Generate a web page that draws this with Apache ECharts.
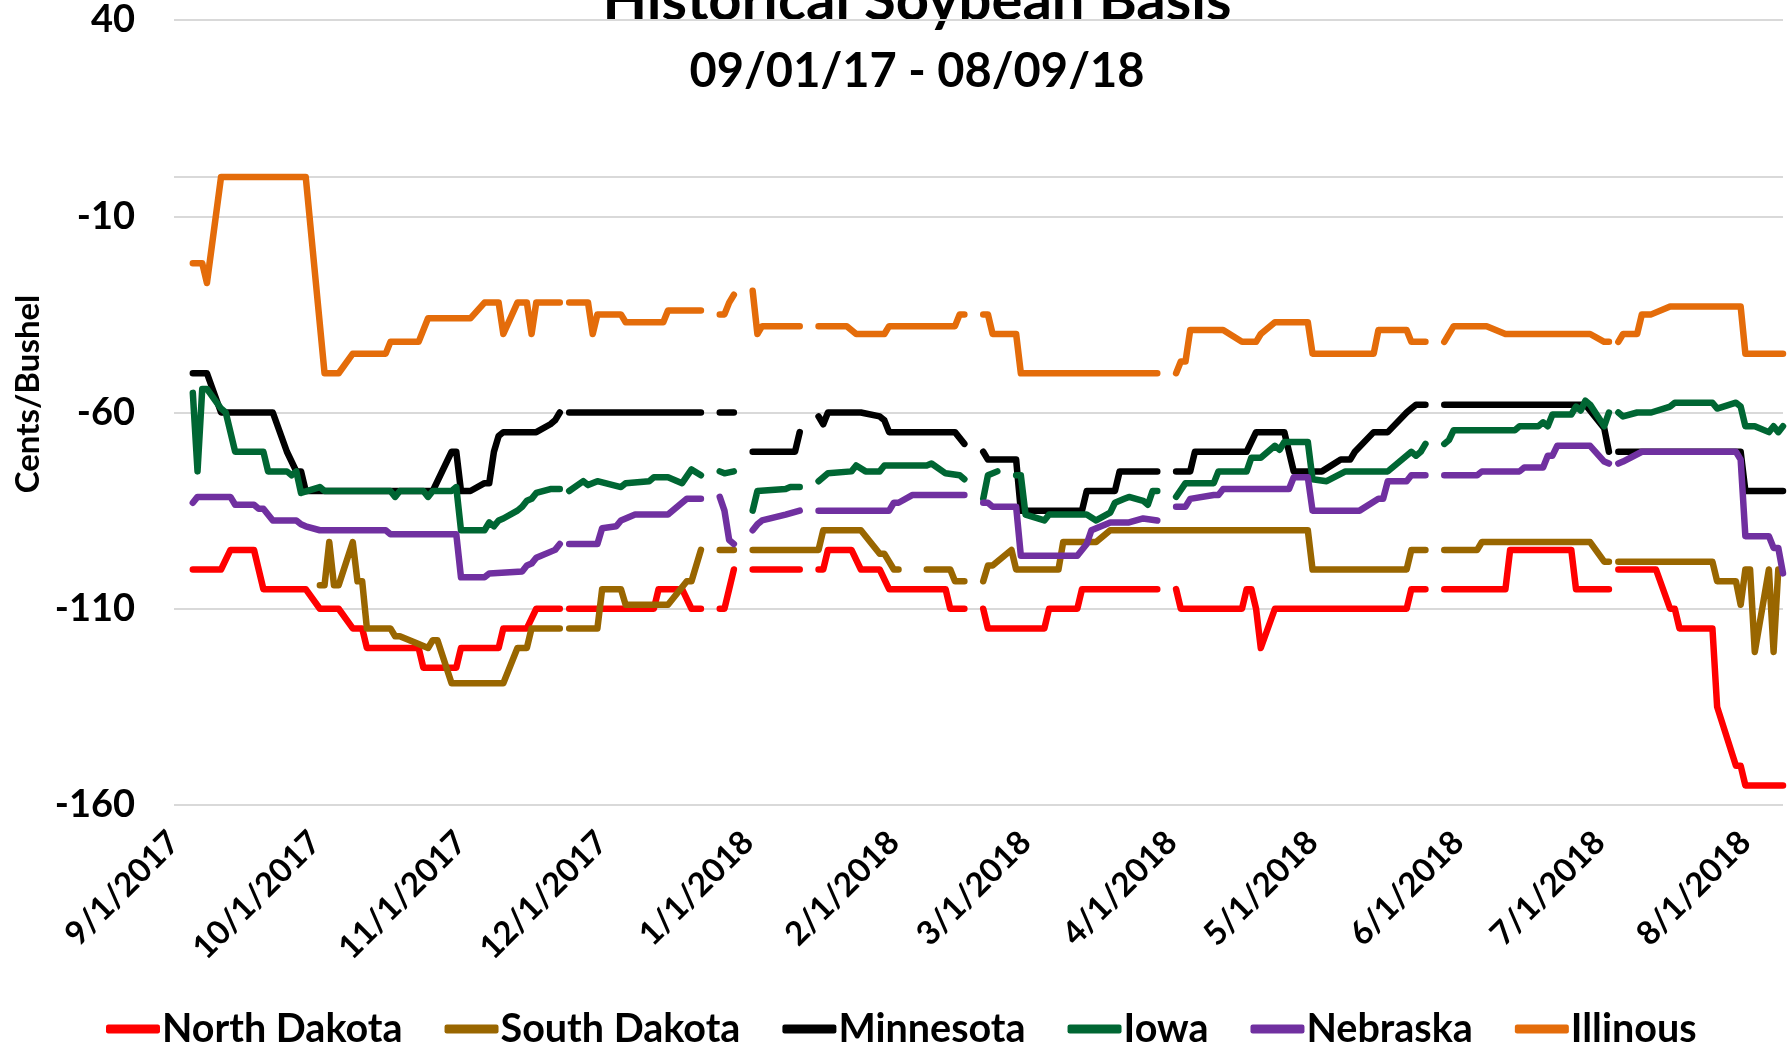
<!DOCTYPE html>
<html lang="en">
<head>
<meta charset="UTF-8">
<title>Historical Soybean Basis</title>
<style>
  html, body { margin: 0; padding: 0; background: #fff; }
  #main { width: 1790px; height: 1047px; }
</style>
</head>
<body>
<div id="main"></div>
<script src="https://cdn.jsdelivr.net/npm/echarts@6/dist/echarts.min.js"></script>
<script>
var seriesNames = ['North Dakota', 'South Dakota', 'Minnesota', 'Iowa', 'Nebraska', 'Illinous'];
var seriesColors = ['#FF0000', '#996600', '#000000', '#006633', '#7030A0', '#E46C0A'];

var yTicks = [-160, -110, -60, -10, 40];
var monthTicks = ['2017-09-01', '2017-10-01', '2017-11-01', '2017-12-01', '2018-01-01', '2018-02-01',
  '2018-03-01', '2018-04-01', '2018-05-01', '2018-06-01', '2018-07-01', '2018-08-01'];

// market holidays -> blank cells -> gaps in the lines
var holidays = ['2017-11-23', '2017-12-25', '2018-01-01', '2018-01-15', '2018-02-19',
  '2018-03-30', '2018-05-28', '2018-07-04'];
var sdGaps = ['2017-11-23', '2017-12-25', '2018-01-01', '2018-02-05', '2018-02-19', '2018-05-28', '2018-07-04'];

var northDakota = [
  ['2017-09-05', -100], ['2017-09-11', -100], ['2017-09-13', -95], ['2017-09-18', -95],
  ['2017-09-20', -105], ['2017-09-29', -105], ['2017-10-02', -110], ['2017-10-06', -110],
  ['2017-10-09', -115], ['2017-10-11', -115], ['2017-10-12', -120], ['2017-10-23', -120],
  ['2017-10-24', -125], ['2017-10-31', -125], ['2017-11-01', -120], ['2017-11-09', -120],
  ['2017-11-10', -115], ['2017-11-15', -115], ['2017-11-17', -110], ['2017-11-22', -110],
  ['2017-11-24', -110], ['2017-12-12', -110], ['2017-12-13', -105], ['2017-12-18', -105],
  ['2017-12-20', -110], ['2017-12-22', -110], ['2017-12-26', -110], ['2017-12-27', -110],
  ['2017-12-28', -105], ['2017-12-29', -100], ['2018-01-02', -100], ['2018-01-12', -100],
  ['2018-01-16', -100], ['2018-01-17', -100], ['2018-01-18', -95], ['2018-01-23', -95],
  ['2018-01-25', -100], ['2018-01-29', -100], ['2018-01-31', -105], ['2018-02-12', -105],
  ['2018-02-13', -110], ['2018-02-16', -110], ['2018-02-20', -110], ['2018-02-21', -115],
  ['2018-03-05', -115], ['2018-03-06', -110], ['2018-03-12', -110], ['2018-03-13', -105],
  ['2018-03-29', -105], ['2018-04-02', -105], ['2018-04-03', -110], ['2018-04-16', -110],
  ['2018-04-17', -105], ['2018-04-18', -105], ['2018-04-19', -110], ['2018-04-20', -120],
  ['2018-04-23', -110], ['2018-05-21', -110], ['2018-05-22', -105], ['2018-05-25', -105],
  ['2018-05-29', -105], ['2018-06-11', -105], ['2018-06-12', -95], ['2018-06-25', -95],
  ['2018-06-26', -105], ['2018-07-03', -105], ['2018-07-05', -100], ['2018-07-13', -100],
  ['2018-07-16', -110], ['2018-07-17', -110], ['2018-07-18', -115], ['2018-07-25', -115],
  ['2018-07-26', -135], ['2018-07-30', -150], ['2018-07-31', -150], ['2018-08-01', -155],
  ['2018-08-09', -155]
];

var southDakota = [
  ['2017-10-02', -104], ['2017-10-03', -104], ['2017-10-04', -93], ['2017-10-05', -104],
  ['2017-10-06', -104], ['2017-10-09', -93], ['2017-10-10', -103], ['2017-10-11', -103],
  ['2017-10-12', -115], ['2017-10-17', -115], ['2017-10-18', -117], ['2017-10-19', -117],
  ['2017-10-23', -119], ['2017-10-25', -120], ['2017-10-26', -118], ['2017-10-27', -118],
  ['2017-10-30', -129], ['2017-11-10', -129], ['2017-11-13', -120], ['2017-11-15', -120],
  ['2017-11-16', -115], ['2017-11-22', -115], ['2017-11-24', -115], ['2017-11-30', -115],
  ['2017-12-01', -105], ['2017-12-05', -105], ['2017-12-06', -109], ['2017-12-15', -109],
  ['2017-12-19', -103], ['2017-12-20', -103], ['2017-12-22', -95], ['2017-12-26', -95],
  ['2017-12-29', -95], ['2018-01-02', -95], ['2018-01-16', -95], ['2018-01-17', -90],
  ['2018-01-25', -90], ['2018-01-29', -96], ['2018-01-30', -96], ['2018-01-31', -98],
  ['2018-02-01', -100], ['2018-02-02', -100], ['2018-02-08', -100], ['2018-02-13', -100],
  ['2018-02-14', -103], ['2018-02-16', -103], ['2018-02-20', -103], ['2018-02-21', -99],
  ['2018-02-22', -99], ['2018-02-26', -95], ['2018-02-27', -100], ['2018-03-08', -100],
  ['2018-03-09', -93], ['2018-03-16', -93], ['2018-03-19', -90], ['2018-04-30', -90],
  ['2018-05-01', -100], ['2018-05-21', -100], ['2018-05-22', -95], ['2018-05-25', -95],
  ['2018-05-29', -95], ['2018-06-05', -95], ['2018-06-06', -93], ['2018-06-29', -93],
  ['2018-07-02', -98], ['2018-07-03', -98], ['2018-07-05', -98], ['2018-07-25', -98],
  ['2018-07-26', -103], ['2018-07-30', -103], ['2018-07-31', -109], ['2018-08-01', -100],
  ['2018-08-02', -100], ['2018-08-03', -121], ['2018-08-06', -100], ['2018-08-07', -121],
  ['2018-08-08', -100]
];

var minnesota = [
  ['2017-09-05', -50], ['2017-09-08', -50], ['2017-09-11', -60], ['2017-09-22', -60],
  ['2017-09-25', -70], ['2017-09-27', -75], ['2017-09-28', -75], ['2017-09-29', -80],
  ['2017-10-26', -80], ['2017-10-30', -70], ['2017-10-31', -70], ['2017-11-01', -80],
  ['2017-11-03', -80], ['2017-11-06', -78], ['2017-11-07', -78], ['2017-11-08', -70],
  ['2017-11-09', -66], ['2017-11-10', -65], ['2017-11-17', -65], ['2017-11-20', -63],
  ['2017-11-21', -62], ['2017-11-22', -60], ['2017-11-24', -60], ['2017-12-22', -60],
  ['2017-12-26', -60], ['2017-12-29', -60], ['2018-01-02', -70], ['2018-01-11', -70],
  ['2018-01-12', -65], ['2018-01-16', -61], ['2018-01-17', -63], ['2018-01-18', -60],
  ['2018-01-25', -60], ['2018-01-29', -61], ['2018-01-30', -62], ['2018-01-31', -65],
  ['2018-02-14', -65], ['2018-02-16', -68], ['2018-02-20', -70], ['2018-02-21', -72],
  ['2018-02-27', -72], ['2018-02-28', -85], ['2018-03-13', -85], ['2018-03-14', -80],
  ['2018-03-20', -80], ['2018-03-21', -75], ['2018-03-29', -75], ['2018-04-02', -75],
  ['2018-04-05', -75], ['2018-04-06', -70], ['2018-04-17', -70], ['2018-04-19', -65],
  ['2018-04-25', -65], ['2018-04-27', -75], ['2018-05-03', -75], ['2018-05-07', -72],
  ['2018-05-09', -72], ['2018-05-10', -70], ['2018-05-14', -65], ['2018-05-17', -65],
  ['2018-05-21', -60], ['2018-05-22', -59], ['2018-05-23', -58], ['2018-05-25', -58],
  ['2018-05-29', -58], ['2018-06-28', -58], ['2018-07-02', -64], ['2018-07-03', -70],
  ['2018-07-05', -70], ['2018-07-31', -70], ['2018-08-01', -80], ['2018-08-09', -80]
];

var iowa = [
  ['2017-09-05', -55], ['2017-09-06', -75], ['2017-09-07', -54], ['2017-09-08', -54],
  ['2017-09-11', -59], ['2017-09-12', -60], ['2017-09-14', -70], ['2017-09-20', -70],
  ['2017-09-21', -75], ['2017-09-25', -75], ['2017-09-26', -76], ['2017-09-27', -75],
  ['2017-09-28', -80.5], ['2017-10-02', -79], ['2017-10-03', -80], ['2017-10-17', -80],
  ['2017-10-18', -81.5], ['2017-10-19', -80], ['2017-10-24', -80], ['2017-10-25', -81.5],
  ['2017-10-26', -80], ['2017-10-30', -80], ['2017-10-31', -79], ['2017-11-01', -90],
  ['2017-11-06', -90], ['2017-11-07', -88], ['2017-11-08', -89], ['2017-11-09', -87.5],
  ['2017-11-10', -87], ['2017-11-13', -85], ['2017-11-14', -84], ['2017-11-15', -82.5],
  ['2017-11-16', -82], ['2017-11-17', -80.5], ['2017-11-20', -79.5], ['2017-11-22', -79.5],
  ['2017-11-24', -80], ['2017-11-27', -77.5], ['2017-11-28', -78.5], ['2017-11-30', -77.5],
  ['2017-12-05', -79], ['2017-12-06', -78], ['2017-12-11', -77.5], ['2017-12-12', -76.5],
  ['2017-12-15', -76.5], ['2017-12-18', -78], ['2017-12-20', -74.5], ['2017-12-22', -76],
  ['2017-12-26', -75], ['2017-12-27', -75.5], ['2017-12-29', -75], ['2018-01-02', -85],
  ['2018-01-03', -80], ['2018-01-09', -79.5], ['2018-01-10', -79], ['2018-01-12', -79],
  ['2018-01-16', -77.5], ['2018-01-18', -75.5], ['2018-01-23', -75], ['2018-01-24', -73.5],
  ['2018-01-26', -75], ['2018-01-29', -75], ['2018-01-30', -73.5], ['2018-02-08', -73.5],
  ['2018-02-09', -73], ['2018-02-12', -75.5], ['2018-02-15', -76], ['2018-02-16', -77],
  ['2018-02-20', -82], ['2018-02-21', -76], ['2018-02-23', -75], ['2018-02-26', null],
  ['2018-02-27', -76], ['2018-02-28', -76], ['2018-03-01', -86], ['2018-03-05', -87.5],
  ['2018-03-06', -86], ['2018-03-14', -86], ['2018-03-16', -87.5], ['2018-03-19', -85.5],
  ['2018-03-20', -83], ['2018-03-22', -82], ['2018-03-23', -81.5], ['2018-03-26', -82.5],
  ['2018-03-27', -83.5], ['2018-03-28', -80], ['2018-03-29', -80], ['2018-04-02', -81.5],
  ['2018-04-04', -78], ['2018-04-10', -78], ['2018-04-11', -75], ['2018-04-17', -75],
  ['2018-04-18', -71.5], ['2018-04-20', -71.5], ['2018-04-23', -68.5], ['2018-04-24', -69.5],
  ['2018-04-25', -67.5], ['2018-04-30', -67.5], ['2018-05-01', -77], ['2018-05-04', -77.5],
  ['2018-05-08', -75], ['2018-05-17', -75], ['2018-05-22', -70], ['2018-05-23', -71],
  ['2018-05-24', -70], ['2018-05-25', -68], ['2018-05-29', -68], ['2018-05-30', -67],
  ['2018-05-31', -64.5], ['2018-06-13', -64.5], ['2018-06-14', -63.5], ['2018-06-18', -63.5],
  ['2018-06-19', -62.5], ['2018-06-20', -63.5], ['2018-06-21', -60.5], ['2018-06-25', -60.5],
  ['2018-06-26', -58.5], ['2018-06-27', -59.5], ['2018-06-28', -57], ['2018-06-29', -58],
  ['2018-07-02', -63.5], ['2018-07-03', -60], ['2018-07-05', -60], ['2018-07-06', -61],
  ['2018-07-09', -60], ['2018-07-12', -60], ['2018-07-16', -58.5], ['2018-07-17', -57.5],
  ['2018-07-25', -57.5], ['2018-07-26', -59], ['2018-07-30', -57.5], ['2018-07-31', -58.5],
  ['2018-08-01', -63.5], ['2018-08-03', -63.5], ['2018-08-06', -65], ['2018-08-07', -63.5],
  ['2018-08-08', -65], ['2018-08-09', -63.5]
];

var nebraska = [
  ['2017-09-05', -83], ['2017-09-06', -81.5], ['2017-09-13', -81.5], ['2017-09-14', -83.5],
  ['2017-09-18', -83.5], ['2017-09-19', -84.5], ['2017-09-20', -84.5], ['2017-09-22', -87.5],
  ['2017-09-27', -87.5], ['2017-09-28', -88.5], ['2017-09-29', -89], ['2017-10-02', -90],
  ['2017-10-16', -90], ['2017-10-17', -91], ['2017-10-31', -91], ['2017-11-01', -102],
  ['2017-11-06', -102], ['2017-11-07', -101], ['2017-11-14', -100.5], ['2017-11-15', -99],
  ['2017-11-16', -98.5], ['2017-11-17', -97], ['2017-11-21', -95], ['2017-11-22', -93.5],
  ['2017-11-24', -93.5], ['2017-11-30', -93.5], ['2017-12-01', -89.5], ['2017-12-04', -89],
  ['2017-12-05', -87.5], ['2017-12-08', -86], ['2017-12-15', -86], ['2017-12-19', -82],
  ['2017-12-22', -82], ['2017-12-26', -81.5], ['2017-12-27', -85], ['2017-12-28', -92.5],
  ['2017-12-29', -93.5], ['2018-01-02', -90], ['2018-01-03', -88.5], ['2018-01-04', -87.5],
  ['2018-01-09', -86], ['2018-01-12', -85], ['2018-01-16', -85], ['2018-01-31', -85],
  ['2018-02-01', -83], ['2018-02-02', -83], ['2018-02-05', -81], ['2018-02-16', -81],
  ['2018-02-20', -83], ['2018-02-21', -83], ['2018-02-22', -84], ['2018-02-27', -84],
  ['2018-02-28', -96.5], ['2018-03-12', -96.5], ['2018-03-14', -93.5], ['2018-03-15', -90],
  ['2018-03-19', -88], ['2018-03-23', -88], ['2018-03-26', -87], ['2018-03-29', -87.5],
  ['2018-04-02', -84], ['2018-04-04', -84], ['2018-04-05', -82], ['2018-04-10', -81],
  ['2018-04-11', -81], ['2018-04-12', -79.5], ['2018-04-26', -79.5], ['2018-04-27', -76.5],
  ['2018-04-30', -76.5], ['2018-05-01', -85], ['2018-05-11', -85], ['2018-05-15', -82],
  ['2018-05-16', -82], ['2018-05-17', -77.5], ['2018-05-21', -77.5], ['2018-05-22', -76],
  ['2018-05-25', -76], ['2018-05-29', -76], ['2018-06-05', -76], ['2018-06-06', -75],
  ['2018-06-14', -75], ['2018-06-15', -74], ['2018-06-19', -74], ['2018-06-20', -71],
  ['2018-06-21', -71], ['2018-06-22', -68.5], ['2018-06-29', -68.5], ['2018-07-02', -72.5],
  ['2018-07-03', -73], ['2018-07-05', -73], ['2018-07-06', -72.5], ['2018-07-10', -70],
  ['2018-07-11', -70], ['2018-07-30', -70], ['2018-07-31', -72], ['2018-08-01', -91.5],
  ['2018-08-06', -91.5], ['2018-08-07', -94.5], ['2018-08-08', -94.5], ['2018-08-09', -101]
];

var illinois = [
  ['2017-09-05', -22], ['2017-09-07', -22], ['2017-09-08', -27], ['2017-09-11', 0],
  ['2017-09-29', 0], ['2017-10-03', -50], ['2017-10-06', -50], ['2017-10-09', -45],
  ['2017-10-16', -45], ['2017-10-17', -42], ['2017-10-23', -42], ['2017-10-25', -36],
  ['2017-11-03', -36], ['2017-11-06', -32], ['2017-11-09', -32], ['2017-11-10', -40],
  ['2017-11-13', -32], ['2017-11-15', -32], ['2017-11-16', -40], ['2017-11-17', -32],
  ['2017-11-22', -32], ['2017-11-24', -32], ['2017-11-28', -32], ['2017-11-29', -40],
  ['2017-11-30', -35], ['2017-12-05', -35], ['2017-12-06', -37], ['2017-12-14', -37],
  ['2017-12-15', -34], ['2017-12-22', -34], ['2017-12-26', -35], ['2017-12-27', -35],
  ['2017-12-28', -32], ['2017-12-29', -30], ['2018-01-02', -29], ['2018-01-03', -40],
  ['2018-01-04', -38], ['2018-01-12', -38], ['2018-01-16', -38], ['2018-01-22', -38],
  ['2018-01-24', -40], ['2018-01-30', -40], ['2018-01-31', -38], ['2018-02-14', -38],
  ['2018-02-15', -35], ['2018-02-16', -35], ['2018-02-20', -35], ['2018-02-21', -35],
  ['2018-02-22', -40], ['2018-02-27', -40], ['2018-02-28', -50], ['2018-03-29', -50],
  ['2018-04-02', -50], ['2018-04-03', -47], ['2018-04-04', -47], ['2018-04-05', -39],
  ['2018-04-12', -39], ['2018-04-16', -42], ['2018-04-19', -42], ['2018-04-20', -40],
  ['2018-04-23', -37], ['2018-04-30', -37], ['2018-05-01', -45], ['2018-05-14', -45],
  ['2018-05-15', -39], ['2018-05-21', -39], ['2018-05-22', -42], ['2018-05-25', -42],
  ['2018-05-29', -42], ['2018-05-31', -38], ['2018-06-07', -38], ['2018-06-11', -40],
  ['2018-06-29', -40], ['2018-07-02', -42], ['2018-07-03', -42], ['2018-07-05', -42],
  ['2018-07-06', -40], ['2018-07-09', -40], ['2018-07-10', -35], ['2018-07-12', -35],
  ['2018-07-16', -33], ['2018-07-31', -33], ['2018-08-01', -45], ['2018-08-09', -45]
];

function parseLocal(s) {
  var p = s.split('-');
  return new Date(+p[0], +p[1] - 1, +p[2]).getTime();
}

function withGaps(points, gaps) {
  var rows = points.map(function (p) { return [parseLocal(p[0]), p[1]]; });
  gaps.forEach(function (g) { rows.push([parseLocal(g), null]); });
  rows.sort(function (a, b) { return a[0] - b[0]; });
  return rows;
}

var allData = [
  withGaps(northDakota, holidays),
  withGaps(southDakota, sdGaps),
  withGaps(minnesota, holidays),
  withGaps(iowa, holidays),
  withGaps(nebraska, holidays),
  withGaps(illinois, holidays)
];

var FONT = 'Lato, "Open Sans", sans-serif';

var series = [{
  // horizontal axis line sits at zero
  type: 'line',
  data: [],
  z: 1,
  silent: true,
  markLine: {
    silent: true,
    symbol: 'none',
    label: { show: false },
    lineStyle: { color: '#D9D9D9', width: 2, type: 'solid' },
    data: [{ yAxis: 0 }]
  }
}];

seriesNames.forEach(function (name, i) {
  series.push({
    name: name,
    type: 'line',
    data: allData[i],
    symbol: 'none',
    connectNulls: false,
    color: seriesColors[i],
    lineStyle: { width: 6.5, color: seriesColors[i], cap: 'round', join: 'round' },
    emphasis: { disabled: true },
    z: 2 + i
  });
});

var chart = echarts.init(document.getElementById('main'));

var option = {
  animation: false,
  backgroundColor: '#fff',
  graphic: [
    {
      type: 'text', x: 917, y: 1,
      style: { text: 'Historical Soybean Basis', fill: '#000', align: 'center', verticalAlign: 'middle',
        font: 'bold 58px ' + FONT }
    },
    {
      type: 'text', x: 917, y: 72,
      style: { text: '09/01/17 - 08/09/18', fill: '#000', align: 'center', verticalAlign: 'middle',
        font: 'bold 47px ' + FONT }
    },
    {
      type: 'text', x: 28, y: 394, rotation: Math.PI / 2,
      style: { text: 'Cents/Bushel', fill: '#000', align: 'center', verticalAlign: 'middle',
        font: 'bold 33px ' + FONT }
    }
  ],
  grid: { left: 174, right: 7, top: 20, bottom: 242 },
  legend: {
    data: seriesNames,
    left: 106,
    top: 1009,
    icon: 'roundRect',
    itemWidth: 54,
    itemHeight: 9,
    itemGap: 42,
    padding: 0,
    selectedMode: false,
    textStyle: { fontFamily: FONT, fontWeight: 'bold', fontSize: 39.5, color: '#000', padding: [0, 0, 0, -3] }
  },
  xAxis: {
    type: 'value',
    min: parseLocal('2017-09-01'),
    max: parseLocal('2018-08-09'),
    axisLine: { show: false },
    axisTick: { show: false },
    splitLine: { show: false },
    axisLabel: {
      customValues: monthTicks.map(parseLocal),
      rotate: 45,
      margin: 32,
      fontFamily: FONT,
      fontWeight: 'bold',
      fontSize: 33,
      color: '#000',
      formatter: function (v) {
        var d = new Date(v);
        return (d.getMonth() + 1) + '/' + d.getDate() + '/' + d.getFullYear();
      }
    }
  },
  yAxis: {
    type: 'value',
    min: yTicks[0],
    max: yTicks[yTicks.length - 1],
    interval: 50,
    axisLine: { show: false },
    axisTick: { show: false },
    splitLine: { lineStyle: { color: '#D9D9D9', width: 2 } },
    axisLabel: {
      margin: 39,
      fontFamily: FONT,
      fontWeight: 'bold',
      fontSize: 38,
      color: '#000'
    }
  },
  series: series
};

chart.setOption(option);
</script>
</body>
</html>
